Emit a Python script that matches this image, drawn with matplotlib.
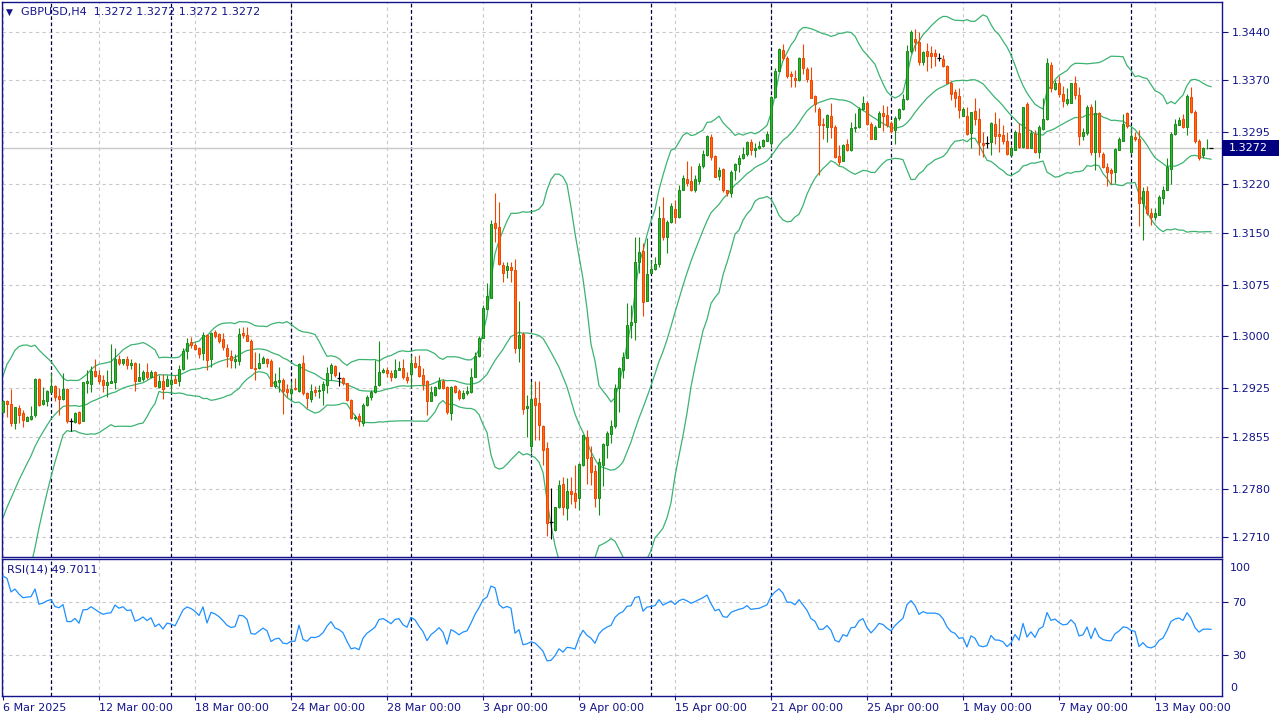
import numpy as np
import pandas as pd
import matplotlib.pyplot as plt
from matplotlib.patches import Rectangle
from matplotlib.transforms import blended_transform_factory

plt.rcParams['font.family'] = ['DejaVu Sans']

symbol = "GBPUSD,H4"
last_price = 1.3272
rsi_caption = "RSI(14) 49.7011"

# closes before the first visible bar, only used to warm up the indicators
pre_close = [1.2590, 1.2575, 1.2580, 1.2570, 1.2585, 1.2600, 1.2610, 1.2595, 1.2605, 1.2620,
             1.2610, 1.2600, 1.2615, 1.2630, 1.2625, 1.2640, 1.2650, 1.2660, 1.2665, 1.2680,
             1.2710, 1.2730, 1.2750, 1.2775, 1.2795, 1.2810, 1.2850, 1.2885, 1.2880, 1.2900]

bar_open = [
    1.2891, 1.2906, 1.2902, 1.2875, 1.2896, 1.2889, 1.2878, 1.2881, 1.2886, 1.2939,
    1.2902, 1.2906, 1.2919, 1.2928, 1.2914, 1.2910, 1.2924, 1.2877, 1.2876, 1.2891,
    1.2878, 1.2932, 1.2931, 1.2950, 1.2944, 1.2937, 1.2930, 1.2933, 1.2934, 1.2967,
    1.2961, 1.2967, 1.2959, 1.2961, 1.2936, 1.2939, 1.2949, 1.2942, 1.2948, 1.2927,
    1.2936, 1.2929, 1.2931, 1.2939, 1.2935, 1.2953, 1.2979, 1.2992, 1.2988, 1.2983,
    1.2976, 1.3002, 1.2967, 1.3006, 1.3003, 1.2996, 1.2983, 1.2972, 1.2965, 1.2965,
    1.3005, 1.3002, 1.2994, 1.2955, 1.2954, 1.2962, 1.2968, 1.2965, 1.2928, 1.2934,
    1.2937, 1.2924, 1.2918, 1.2926, 1.2921, 1.2961, 1.2918, 1.2910, 1.2923, 1.2921,
    1.2923, 1.2930, 1.2947, 1.2957, 1.2940, 1.2940, 1.2932, 1.2908, 1.2882, 1.2885,
    1.2875, 1.2901, 1.2913, 1.2920, 1.2930, 1.2949, 1.2951, 1.2947, 1.2942, 1.2952,
    1.2955, 1.2942, 1.2945, 1.2961, 1.2957, 1.2944, 1.2935, 1.2907, 1.2915, 1.2925,
    1.2936, 1.2927, 1.2889, 1.2928, 1.2921, 1.2911, 1.2918, 1.2919, 1.2942, 1.2971,
    1.2998, 1.3040, 1.3056, 1.3164, 1.3158, 1.3103, 1.3096, 1.3100, 1.3096, 1.2983,
    1.3004, 1.2896, 1.2842, 1.2911, 1.2904, 1.2871, 1.2838, 1.2732, 1.2720, 1.2753,
    1.2786, 1.2752, 1.2776, 1.2774, 1.2766, 1.2814, 1.2855, 1.2825, 1.2806, 1.2766,
    1.2814, 1.2843, 1.2859, 1.2870, 1.2926, 1.2952, 1.2969, 1.3017, 1.3021, 1.3108,
    1.3124, 1.3051, 1.3092, 1.3097, 1.3105, 1.3171, 1.3144, 1.3166, 1.3184, 1.3173,
    1.3212, 1.3227, 1.3224, 1.3211, 1.3225, 1.3246, 1.3262, 1.3288, 1.3261, 1.3232,
    1.3242, 1.3211, 1.3208, 1.3240, 1.3249, 1.3258, 1.3264, 1.3281, 1.3270, 1.3272,
    1.3275, 1.3283, 1.3280, 1.3346, 1.3384, 1.3414, 1.3403, 1.3379, 1.3373, 1.3371,
    1.3403, 1.3387, 1.3371, 1.3347, 1.3329, 1.3307, 1.3303, 1.3319, 1.3303, 1.3261,
    1.3254, 1.3278, 1.3270, 1.3301, 1.3302, 1.3329, 1.3338, 1.3307, 1.3286, 1.3303,
    1.3323, 1.3320, 1.3308, 1.3298, 1.3315, 1.3329, 1.3343, 1.3412, 1.3430, 1.3425,
    1.3396, 1.3412, 1.3409, 1.3409, 1.3403, 1.3401, 1.3391, 1.3367, 1.3353, 1.3348,
    1.3319, 1.3319, 1.3294, 1.3326, 1.3314, 1.3280, 1.3279, 1.3281, 1.3307, 1.3293,
    1.3291, 1.3283, 1.3262, 1.3270, 1.3294, 1.3274, 1.3336, 1.3273, 1.3292, 1.3266,
    1.3300, 1.3314, 1.3393, 1.3358, 1.3367, 1.3351, 1.3337, 1.3338, 1.3367, 1.3349,
    1.3290, 1.3294, 1.3332, 1.3266, 1.3323, 1.3264, 1.3245, 1.3241, 1.3237, 1.3270,
    1.3283, 1.3323, 1.3266, 1.3288, 1.3286, 1.3193, 1.3210, 1.3178, 1.3172, 1.3176,
    1.3200, 1.3212, 1.3242, 1.3293, 1.3306, 1.3314, 1.3302, 1.3346, 1.3325, 1.3282,
    1.3262, 1.3272, 1.3272]

bar_high = [
    1.2908, 1.2908, 1.2924, 1.2898, 1.2901, 1.2893, 1.2885, 1.2899, 1.2940, 1.2940,
    1.2927, 1.2923, 1.2947, 1.2930, 1.2925, 1.2947, 1.2925, 1.2882, 1.2891, 1.2892,
    1.2934, 1.2952, 1.2957, 1.2967, 1.2952, 1.2944, 1.2952, 1.2989, 1.2983, 1.2973,
    1.2968, 1.2971, 1.2968, 1.2963, 1.2961, 1.2952, 1.2961, 1.2951, 1.2950, 1.2944,
    1.2945, 1.2944, 1.2944, 1.2944, 1.2959, 1.2983, 1.2997, 1.2999, 1.2990, 1.2985,
    1.3006, 1.3003, 1.3007, 1.3009, 1.3005, 1.3005, 1.2989, 1.2981, 1.2974, 1.3012,
    1.3013, 1.3013, 1.2996, 1.2978, 1.2976, 1.2971, 1.2969, 1.2968, 1.2947, 1.2956,
    1.2940, 1.2931, 1.2935, 1.2940, 1.2962, 1.2973, 1.2919, 1.2931, 1.2928, 1.2930,
    1.2935, 1.2956, 1.2961, 1.2959, 1.2948, 1.2942, 1.2933, 1.2909, 1.2887, 1.2889,
    1.2903, 1.2915, 1.2923, 1.2966, 1.2993, 1.2954, 1.2956, 1.2952, 1.2968, 1.2964,
    1.2968, 1.2949, 1.2973, 1.2971, 1.2973, 1.2954, 1.2937, 1.2928, 1.2928, 1.2942,
    1.2938, 1.2928, 1.2928, 1.2930, 1.2924, 1.2923, 1.2928, 1.2954, 1.2978, 1.3000,
    1.3046, 1.3077, 1.3168, 1.3207, 1.3195, 1.3108, 1.3108, 1.3108, 1.3112, 1.3051,
    1.3007, 1.2916, 1.2934, 1.2935, 1.2935, 1.2872, 1.2848, 1.2781, 1.2754, 1.2793,
    1.2797, 1.2796, 1.2797, 1.2814, 1.2817, 1.2858, 1.2865, 1.2841, 1.2814, 1.2824,
    1.2846, 1.2863, 1.2879, 1.2931, 1.2956, 1.2978, 1.3048, 1.3046, 1.3144, 1.3144,
    1.3135, 1.3142, 1.3111, 1.3115, 1.3188, 1.3202, 1.3168, 1.3193, 1.3197, 1.3219,
    1.3233, 1.3253, 1.3246, 1.3233, 1.3250, 1.3269, 1.3291, 1.3292, 1.3262, 1.3245,
    1.3243, 1.3212, 1.3240, 1.3251, 1.3262, 1.3274, 1.3282, 1.3285, 1.3279, 1.3282,
    1.3286, 1.3297, 1.3347, 1.3388, 1.3417, 1.3422, 1.3405, 1.3384, 1.3385, 1.3404,
    1.3422, 1.3390, 1.3390, 1.3349, 1.3331, 1.3315, 1.3321, 1.3338, 1.3305, 1.3277,
    1.3278, 1.3286, 1.3310, 1.3323, 1.3332, 1.3348, 1.3340, 1.3310, 1.3306, 1.3326,
    1.3334, 1.3333, 1.3311, 1.3318, 1.3330, 1.3351, 1.3421, 1.3443, 1.3444, 1.3440,
    1.3413, 1.3424, 1.3420, 1.3416, 1.3409, 1.3407, 1.3392, 1.3369, 1.3358, 1.3359,
    1.3331, 1.3332, 1.3325, 1.3345, 1.3330, 1.3296, 1.3290, 1.3310, 1.3324, 1.3315,
    1.3306, 1.3296, 1.3277, 1.3298, 1.3308, 1.3332, 1.3339, 1.3298, 1.3298, 1.3306,
    1.3344, 1.3402, 1.3396, 1.3371, 1.3377, 1.3362, 1.3359, 1.3367, 1.3377, 1.3360,
    1.3301, 1.3334, 1.3336, 1.3342, 1.3325, 1.3267, 1.3251, 1.3243, 1.3272, 1.3288,
    1.3322, 1.3325, 1.3303, 1.3295, 1.3299, 1.3216, 1.3217, 1.3185, 1.3185, 1.3205,
    1.3218, 1.3258, 1.3295, 1.3314, 1.3317, 1.3322, 1.3351, 1.3361, 1.3327, 1.3286,
    1.3274, 1.3286, 1.3272]

bar_low = [
    1.2889, 1.2883, 1.2871, 1.2866, 1.2875, 1.2869, 1.2877, 1.2879, 1.2884, 1.2899,
    1.2901, 1.2899, 1.2918, 1.2907, 1.2887, 1.2908, 1.2875, 1.2863, 1.2875, 1.2874,
    1.2877, 1.2918, 1.2919, 1.2941, 1.2931, 1.2919, 1.2913, 1.2932, 1.2924, 1.2959,
    1.2959, 1.2953, 1.2953, 1.2921, 1.2935, 1.2935, 1.2939, 1.2941, 1.2927, 1.2925,
    1.2910, 1.2928, 1.2920, 1.2932, 1.2928, 1.2952, 1.2968, 1.2983, 1.2981, 1.2969,
    1.2966, 1.2952, 1.2956, 1.2997, 1.2990, 1.2981, 1.2956, 1.2955, 1.2955, 1.2959,
    1.2997, 1.2993, 1.2954, 1.2937, 1.2953, 1.2961, 1.2956, 1.2928, 1.2926, 1.2920,
    1.2888, 1.2913, 1.2910, 1.2923, 1.2920, 1.2915, 1.2896, 1.2905, 1.2914, 1.2911,
    1.2901, 1.2918, 1.2937, 1.2942, 1.2928, 1.2930, 1.2907, 1.2880, 1.2879, 1.2870,
    1.2870, 1.2900, 1.2908, 1.2918, 1.2928, 1.2947, 1.2942, 1.2935, 1.2940, 1.2951,
    1.2938, 1.2932, 1.2925, 1.2955, 1.2942, 1.2923, 1.2887, 1.2906, 1.2914, 1.2924,
    1.2924, 1.2888, 1.2879, 1.2918, 1.2908, 1.2909, 1.2915, 1.2918, 1.2941, 1.2970,
    1.2997, 1.3040, 1.3056, 1.3137, 1.3103, 1.3078, 1.3084, 1.3079, 1.2976, 1.2963,
    1.2888, 1.2855, 1.2831, 1.2850, 1.2850, 1.2814, 1.2711, 1.2707, 1.2718, 1.2752,
    1.2742, 1.2735, 1.2757, 1.2752, 1.2749, 1.2813, 1.2786, 1.2785, 1.2753, 1.2742,
    1.2784, 1.2824, 1.2846, 1.2867, 1.2891, 1.2940, 1.2969, 1.2997, 1.2995, 1.3092,
    1.3030, 1.3051, 1.3091, 1.3096, 1.3101, 1.3139, 1.3120, 1.3164, 1.3164, 1.3171,
    1.3211, 1.3217, 1.3210, 1.3209, 1.3221, 1.3243, 1.3261, 1.3255, 1.3230, 1.3226,
    1.3209, 1.3203, 1.3202, 1.3226, 1.3237, 1.3256, 1.3261, 1.3262, 1.3259, 1.3271,
    1.3274, 1.3282, 1.3272, 1.3345, 1.3384, 1.3400, 1.3374, 1.3361, 1.3361, 1.3369,
    1.3380, 1.3368, 1.3344, 1.3324, 1.3233, 1.3286, 1.3281, 1.3287, 1.3258, 1.3248,
    1.3253, 1.3268, 1.3268, 1.3296, 1.3301, 1.3327, 1.3305, 1.3285, 1.3285, 1.3302,
    1.3297, 1.3303, 1.3294, 1.3278, 1.3313, 1.3327, 1.3342, 1.3409, 1.3413, 1.3393,
    1.3393, 1.3383, 1.3388, 1.3391, 1.3398, 1.3390, 1.3366, 1.3342, 1.3331, 1.3315,
    1.3318, 1.3291, 1.3273, 1.3306, 1.3262, 1.3260, 1.3273, 1.3262, 1.3278, 1.3267,
    1.3278, 1.3262, 1.3261, 1.3269, 1.3272, 1.3273, 1.3272, 1.3272, 1.3265, 1.3258,
    1.3299, 1.3313, 1.3353, 1.3356, 1.3346, 1.3332, 1.3335, 1.3337, 1.3343, 1.3277,
    1.3284, 1.3291, 1.3262, 1.3241, 1.3260, 1.3243, 1.3218, 1.3221, 1.3222, 1.3270,
    1.3283, 1.3301, 1.3264, 1.3283, 1.3160, 1.3139, 1.3176, 1.3161, 1.3168, 1.3176,
    1.3192, 1.3212, 1.3221, 1.3291, 1.3305, 1.3301, 1.3291, 1.3323, 1.3279, 1.3255,
    1.3258, 1.3271, 1.3272]

bar_close = [
    1.2906, 1.2902, 1.2875, 1.2898, 1.2887, 1.2879, 1.2883, 1.2885, 1.2938, 1.2901,
    1.2908, 1.2921, 1.2929, 1.2912, 1.2909, 1.2924, 1.2877, 1.2877, 1.2889, 1.2875,
    1.2934, 1.2935, 1.2950, 1.2943, 1.2936, 1.2930, 1.2934, 1.2936, 1.2968, 1.2961,
    1.2967, 1.2959, 1.2961, 1.2936, 1.2941, 1.2949, 1.2941, 1.2949, 1.2929, 1.2936,
    1.2924, 1.2939, 1.2937, 1.2933, 1.2953, 1.2979, 1.2990, 1.2987, 1.2982, 1.2974,
    1.3002, 1.2966, 1.3005, 1.3001, 1.2994, 1.2984, 1.2972, 1.2966, 1.2968, 1.3003,
    1.3002, 1.2994, 1.2955, 1.2953, 1.2961, 1.2969, 1.2962, 1.2929, 1.2935, 1.2937,
    1.2921, 1.2919, 1.2924, 1.2924, 1.2960, 1.2918, 1.2911, 1.2921, 1.2920, 1.2923,
    1.2931, 1.2947, 1.2959, 1.2944, 1.2940, 1.2932, 1.2908, 1.2882, 1.2884, 1.2877,
    1.2901, 1.2913, 1.2920, 1.2928, 1.2949, 1.2952, 1.2947, 1.2941, 1.2952, 1.2954,
    1.2942, 1.2937, 1.2961, 1.2956, 1.2943, 1.2931, 1.2907, 1.2920, 1.2927, 1.2936,
    1.2925, 1.2890, 1.2927, 1.2920, 1.2911, 1.2918, 1.2921, 1.2942, 1.2971, 1.2998,
    1.3041, 1.3058, 1.3162, 1.3157, 1.3104, 1.3091, 1.3102, 1.3096, 1.2983, 1.3002,
    1.2895, 1.2900, 1.2910, 1.2901, 1.2872, 1.2836, 1.2730, 1.2732, 1.2753, 1.2785,
    1.2753, 1.2776, 1.2772, 1.2762, 1.2815, 1.2857, 1.2824, 1.2804, 1.2766, 1.2818,
    1.2844, 1.2860, 1.2870, 1.2925, 1.2954, 1.2970, 1.3017, 1.3021, 1.3108, 1.3122,
    1.3050, 1.3090, 1.3097, 1.3105, 1.3171, 1.3144, 1.3166, 1.3189, 1.3173, 1.3212,
    1.3229, 1.3222, 1.3212, 1.3227, 1.3246, 1.3264, 1.3290, 1.3259, 1.3231, 1.3241,
    1.3211, 1.3208, 1.3238, 1.3249, 1.3258, 1.3264, 1.3281, 1.3269, 1.3273, 1.3275,
    1.3284, 1.3293, 1.3346, 1.3384, 1.3415, 1.3403, 1.3377, 1.3377, 1.3370, 1.3403,
    1.3388, 1.3372, 1.3345, 1.3336, 1.3306, 1.3306, 1.3320, 1.3303, 1.3260, 1.3252,
    1.3277, 1.3270, 1.3301, 1.3303, 1.3329, 1.3338, 1.3307, 1.3286, 1.3302, 1.3323,
    1.3319, 1.3306, 1.3297, 1.3315, 1.3329, 1.3343, 1.3413, 1.3440, 1.3425, 1.3396,
    1.3411, 1.3406, 1.3406, 1.3406, 1.3403, 1.3391, 1.3367, 1.3351, 1.3345, 1.3327,
    1.3329, 1.3292, 1.3324, 1.3314, 1.3281, 1.3276, 1.3279, 1.3308, 1.3290, 1.3289,
    1.3283, 1.3263, 1.3272, 1.3295, 1.3274, 1.3331, 1.3273, 1.3294, 1.3267, 1.3303,
    1.3314, 1.3395, 1.3359, 1.3367, 1.3351, 1.3340, 1.3343, 1.3366, 1.3349, 1.3290,
    1.3295, 1.3332, 1.3266, 1.3323, 1.3266, 1.3245, 1.3238, 1.3236, 1.3271, 1.3285,
    1.3307, 1.3304, 1.3290, 1.3285, 1.3193, 1.3210, 1.3179, 1.3172, 1.3179, 1.3202,
    1.3212, 1.3245, 1.3293, 1.3307, 1.3313, 1.3303, 1.3348, 1.3325, 1.3282, 1.3258,
    1.3272, 1.3273, 1.3272]

price_ticks = [1.3440, 1.3370, 1.3295, 1.3220, 1.3150, 1.3075, 1.3000, 1.2925, 1.2855, 1.2780, 1.2710]
time_labels = ["6 Mar 2025", "12 Mar 00:00", "18 Mar 00:00", "24 Mar 00:00", "28 Mar 00:00",
               "3 Apr 00:00", "9 Apr 00:00", "15 Apr 00:00", "21 Apr 00:00", "25 Apr 00:00",
               "1 May 00:00", "7 May 00:00", "13 May 00:00"]
label_bars = [0, 24, 48, 72, 96, 120, 144, 168, 192, 216, 240, 264, 288]
week_bars = [12, 42, 72, 102, 132, 162, 192, 222, 252, 282]

NAVY = '#14148a'
GRID = '#c8c8c8'
UP_FILL, UP_EDGE = '#2fb52f', '#178a17'
DN_FILL, DN_EDGE = '#ff6a10', '#f04400'
BAND = '#3cb371'
RSI_COL = '#1e90ff'


def bollinger(values, period=20, k=2.0):
    s = pd.Series(values)
    mid = s.rolling(period).mean()
    sd = s.rolling(period).std(ddof=0)
    return mid.values, (mid + k * sd).values, (mid - k * sd).values


def wilder_rsi(values, period=14):
    diff = np.diff(values)
    gain = np.clip(diff, 0, None)
    loss = np.clip(-diff, 0, None)
    out = np.full(len(values), np.nan)
    ag = gain[:period].mean()
    al = loss[:period].mean()
    out[period] = 100 * ag / (ag + al)
    for i in range(period + 1, len(values)):
        ag = (ag * (period - 1) + gain[i - 1]) / period
        al = (al * (period - 1) + loss[i - 1]) / period
        out[i] = 100 * ag / (ag + al)
    return out


W, H = 1280, 720


def px_box(x0, y0, x1, y1):
    return [x0 / W, 1 - y1 / H, (x1 - x0) / W, (y1 - y0) / H]


o = np.array(bar_open)
h = np.array(bar_high)
l = np.array(bar_low)
c = np.array(bar_close)
x = np.arange(len(c))
n_pre = len(pre_close)
all_close = np.array(pre_close + bar_close)
mid, upper, lower = bollinger(all_close)
rsi = wilder_rsi(all_close)

fig = plt.figure(figsize=(12.8, 7.2), dpi=100)
ax = fig.add_axes(px_box(2, 2, 1222, 557))
ax_rsi = fig.add_axes(px_box(2, 559, 1222, 696))

for a in (ax, ax_rsi):
    a.set_xlim(-0.25, 304.75)
    for sp in a.spines.values():
        sp.set_color(NAVY)
        sp.set_linewidth(1.0)
    for b in label_bars:
        a.axvline(b, color=GRID, lw=0.8, dashes=(3, 3), zorder=0)
    for b in week_bars:
        a.axvline(b, color='#000040', lw=0.9, dashes=(3, 2), zorder=1)

# price panel
ax.set_ylim(1.26811, 1.34834)
for p in price_ticks:
    ax.axhline(p, color=GRID, lw=0.8, dashes=(3, 3), zorder=0)
ax.axhline(last_price, color='#c8c8c8', lw=1.0, zorder=1)

ax.plot(x, mid[n_pre:], color=BAND, lw=0.9, zorder=2)
ax.plot(x, upper[n_pre:], color=BAND, lw=0.9, zorder=2)
ax.plot(x, lower[n_pre:], color=BAND, lw=0.9, zorder=2)

up = c > o
dn = c < o
flat = c == o
wick_col = np.where(up, UP_EDGE, np.where(dn, DN_EDGE, 'black'))
ax.vlines(x, np.minimum(l, np.minimum(o, c)), np.maximum(h, np.maximum(o, c)),
          colors=wick_col, lw=0.8, zorder=3)
ax.bar(x[up], (c - o)[up], bottom=o[up], width=0.6, color=UP_FILL,
       edgecolor=UP_EDGE, lw=0.7, zorder=4)
ax.bar(x[dn], (o - c)[dn], bottom=c[dn], width=0.6, color=DN_FILL,
       edgecolor=DN_EDGE, lw=0.7, zorder=4)
ax.hlines(c[flat], x[flat] - 0.4, x[flat] + 0.4, colors='black', lw=0.9, zorder=4)

ax.set_xticks([])
ax.yaxis.tick_right()
ax.set_yticks(price_ticks, labels=[f"{p:.4f}" for p in price_ticks])
ax.tick_params(axis='y', direction='out', length=4, width=0.8, color=NAVY,
               labelcolor=NAVY, labelsize=8, pad=3)

trans = blended_transform_factory(ax.transAxes, ax.transData)
dh = 8 / 6918
ax.add_patch(Rectangle((1.0, last_price - dh), 57 / 1220, 2 * dh, transform=trans,
                       facecolor='#000080', edgecolor='none', clip_on=False, zorder=5))
ax.text(1.0 + 7 / 1220, last_price, f"{last_price:.4f}", transform=trans, color='white',
        fontsize=8, va='center', ha='left', zorder=6)

# rsi panel
ax_rsi.set_ylim(-0.9, 102.5)
for lv in (70, 30):
    ax_rsi.axhline(lv, color=GRID, lw=0.8, dashes=(3, 3), zorder=0)
ax_rsi.plot(x, rsi[n_pre:], color=RSI_COL, lw=0.9, zorder=3)
ax_rsi.yaxis.tick_right()
ax_rsi.set_yticks([70, 30], labels=["70", "30"])
ax_rsi.tick_params(axis='y', direction='out', length=4, width=0.8, color=NAVY,
                   labelcolor=NAVY, labelsize=8, pad=3)
rtrans = blended_transform_factory(ax_rsi.transAxes, ax_rsi.transData)
ax_rsi.text(1.0 + 8 / 1220, 95.7, "100", transform=rtrans, color=NAVY, fontsize=8, va='center')
ax_rsi.text(1.0 + 8 / 1220, 5.1, "0", transform=rtrans, color=NAVY, fontsize=8, va='center')

ax_rsi.set_xticks(label_bars, labels=time_labels)
ax_rsi.tick_params(axis='x', direction='out', length=3, width=0.8, color=NAVY,
                   labelcolor=NAVY, labelsize=8, pad=2)
for t in ax_rsi.get_xticklabels():
    t.set_ha('left')

# captions
fig.text(6 / W, 1 - 12 / H, "▼", color=NAVY, fontsize=6.5, va='center', ha='left')
fig.text(21 / W, 1 - 12 / H, f"{symbol}  1.3272 1.3272 1.3272 1.3272", color=NAVY,
         fontsize=8, va='center', ha='left')
fig.text(7 / W, 1 - 570 / H, rsi_caption, color=NAVY, fontsize=8, va='center', ha='left')

fig.savefig("out.png", dpi=100, facecolor='white')
